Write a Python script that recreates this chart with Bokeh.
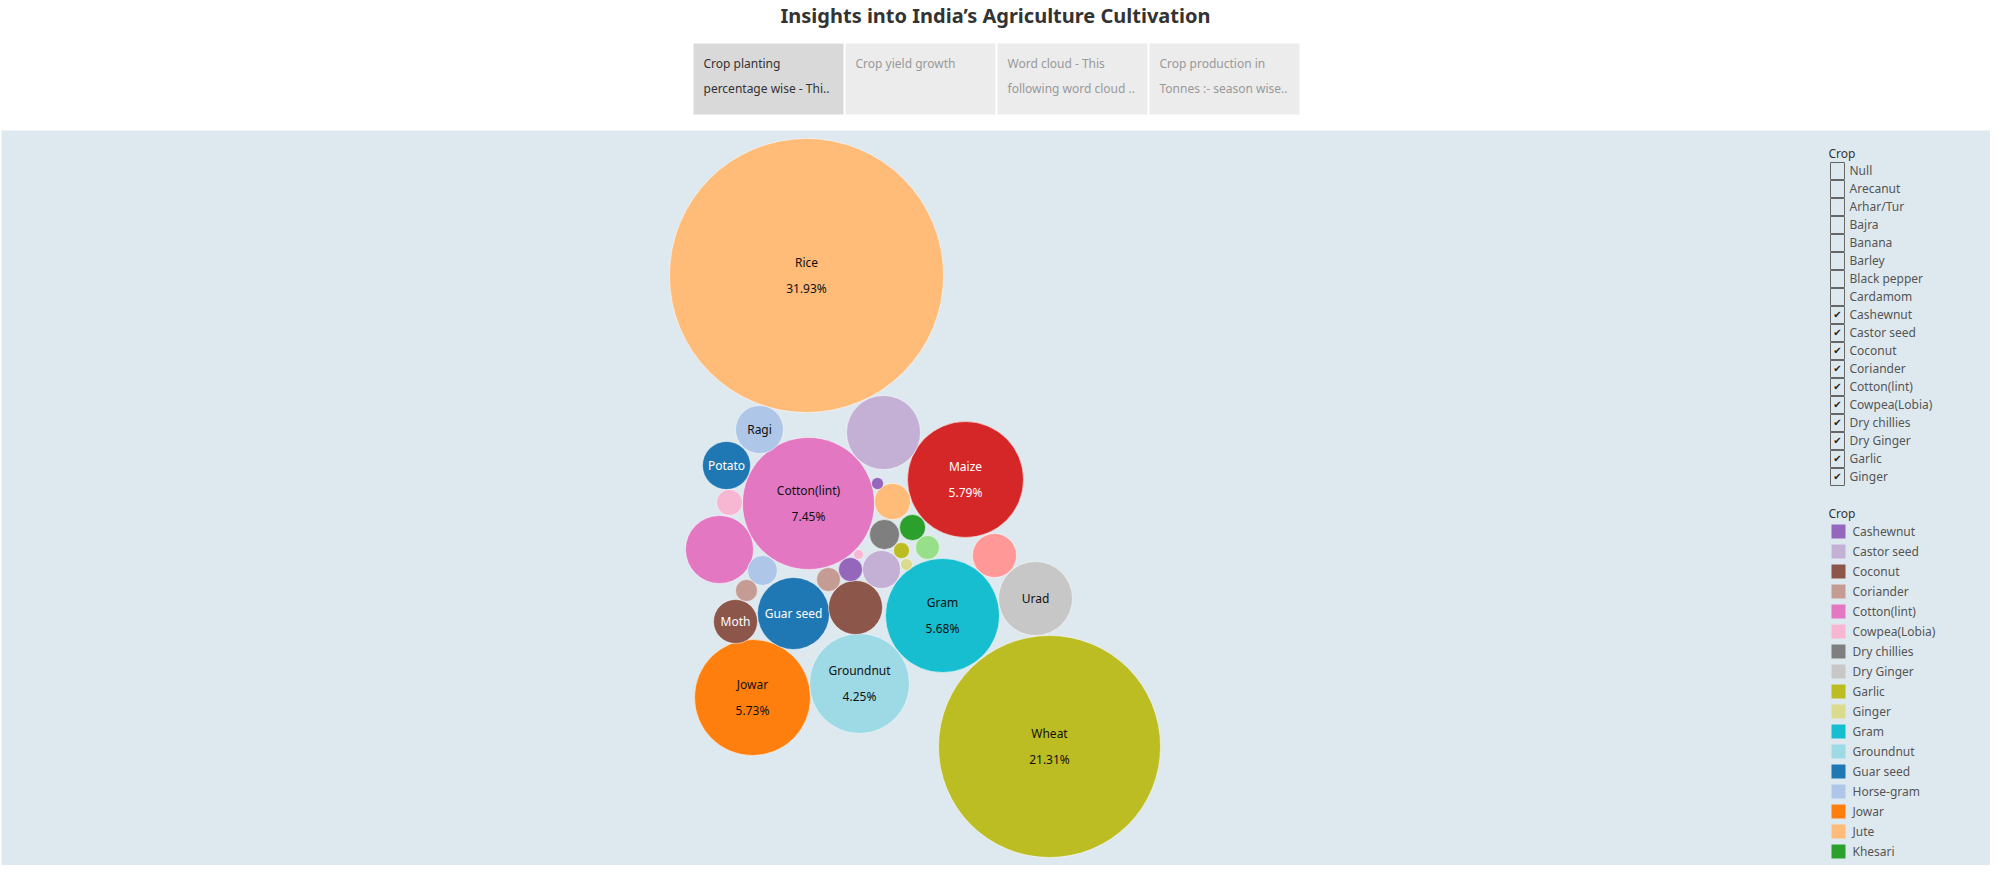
from bokeh.plotting import figure
from bokeh.models import Range1d, ColumnDataSource
from bokeh.core.properties import value
from bokeh.embed import file_html
from bokeh.resources import INLINE

FONT = "Noto Sans"
W, H = 1990, 865

# bubbles (page pixel layout)
crops = ['Rice', 'Wheat', 'Cotton(lint)', 'Maize', 'Jowar', 'Gram', 'Groundnut', 'Castor seed', 'Urad',
         'Guar seed', 'Cotton(lint) ', 'Coconut', 'Ragi', 'Potato', 'Moth', 'Lentil', 'Castor seed ',
         'Jute', 'Dry chillies', 'Horse-gram', 'Cowpea(Lobia)', 'Khesari', 'Linseed', 'Cashewnut',
         'Coriander', 'Coriander ', 'Garlic', 'Ginger', 'Cashewnut ', 'Cowpea(Lobia) ']
labels = ['Rice\n31.93%', 'Wheat\n21.31%', 'Cotton(lint)\n7.45%', 'Maize\n5.79%', 'Jowar\n5.73%',
          'Gram\n5.68%', 'Groundnut\n4.25%', '', 'Urad', 'Guar seed', '', '', 'Ragi', 'Potato', 'Moth',
          '', '', '', '', '', '', '', '', '', '', '', '', '', '', '']
colors = ['#ffbb78', '#bcbd22', '#e377c2', '#d62728', '#ff7f0e', '#17becf', '#9edae5', '#c5b0d5', '#c7c7c7',
          '#1f77b4', '#e377c2', '#8c564b', '#aec7e8', '#1f77b4', '#8c564b', '#ff9896', '#c5b0d5',
          '#ffbb78', '#7f7f7f', '#aec7e8', '#f7b6d2', '#2ca02c', '#98df8a', '#9467bd',
          '#c49c94', '#c49c94', '#bcbd22', '#dbdb8d', '#9467bd', '#f7b6d2']
label_colors = ['#111111'] * 30
for i in (3, 9, 13, 14):
    label_colors[i] = 'white'
bx = [814, 1057, 816, 973, 760, 950, 867, 891, 1043, 801, 727, 863, 767, 734, 743, 1002, 889,
      900, 892, 770, 737, 920, 935, 858, 836, 754, 909, 914, 885, 866]
by = [283, 754, 511, 487, 705, 623, 691, 440, 606, 621, 557, 615, 437, 473, 629, 563, 577,
      509, 542, 578, 510, 535, 555, 577, 587, 598, 558, 572, 491, 562]
br = [137, 111, 66, 58, 58, 57, 50, 37, 37, 36, 34, 27, 24, 24, 22, 22, 19,
      18, 15, 15, 13, 13, 12, 12, 12, 11, 8, 6, 6, 5]

filter_items = ['Null', 'Arecanut', 'Arhar/Tur', 'Bajra', 'Banana', 'Barley', 'Black pepper', 'Cardamom',
                'Cashewnut', 'Castor seed', 'Coconut', 'Coriander', 'Cotton(lint)', 'Cowpea(Lobia)',
                'Dry chillies', 'Dry Ginger', 'Garlic', 'Ginger']
filter_checked = [False] * 8 + [True] * 10

legend_items = ['Cashewnut', 'Castor seed', 'Coconut', 'Coriander', 'Cotton(lint)', 'Cowpea(Lobia)',
                'Dry chillies', 'Dry Ginger', 'Garlic', 'Ginger', 'Gram', 'Groundnut', 'Guar seed',
                'Horse-gram', 'Jowar', 'Jute', 'Khesari']
legend_colors = ['#9467bd', '#c5b0d5', '#8c564b', '#c49c94', '#e377c2', '#f7b6d2', '#7f7f7f', '#c7c7c7',
                 '#bcbd22', '#dbdb8d', '#17becf', '#9edae5', '#1f77b4', '#aec7e8', '#ff7f0e', '#ffbb78',
                 '#2ca02c']

tabs = ['Crop planting\npercentage wise - Thi..', 'Crop yield growth',
        'Word cloud - This\nfollowing word cloud ..', 'Crop production in\nTonnes :- season wise..']

p = figure(width=W, height=H, x_range=Range1d(0, W), y_range=Range1d(H, 0),
           output_backend="svg", toolbar_location=None, min_border=0)
p.axis.visible = False
p.grid.visible = False
p.outline_line_color = None
p.background_fill_color = 'white'

# title and tabs
p.text([W / 2], [15], text=['Insights into India\u2019s Agriculture Cultivation'], text_align='center',
       text_baseline='middle', text_font=value(FONT), text_font_size='20px', text_font_style='bold',
       text_color='#333333')
tx = [693 + i * 152 for i in range(4)]
p.quad(left=tx, right=[x + 150 for x in tx], top=[43] * 4, bottom=[114] * 4,
       fill_color=['#d9d9d9', '#ececec', '#ececec', '#ececec'], line_color=None)
p.text([x + 10 for x in tx], [54] * 4, text=tabs, text_baseline='top', text_font=value(FONT),
       text_font_size='12px', text_color=['#333333', '#999999', '#999999', '#999999'],
       text_line_height=1.5)

# panel
p.quad(left=[1], right=[1992], top=[130], bottom=[866], fill_color='#dee9ef', line_color=None)

src = ColumnDataSource(dict(x=[x - 8 for x in bx], y=[y - 8 for y in by], r=br, c=colors,
                            lab=labels, lc=label_colors))
p.circle('x', 'y', radius='r', fill_color='c', line_color='white', line_width=0.5, source=src)
p.text('x', 'y', text='lab', text_color='lc', text_align='center', text_baseline='middle',
       text_font=value(FONT), text_font_size='12px', text_line_height=1.5, source=src)

# filter legend
p.text([1828], [153], text=['Crop'], text_baseline='middle', text_font=value(FONT),
       text_font_size='12px', text_color='#333333')
fy = [170 + 18 * i for i in range(len(filter_items))]
p.quad(left=[1830] * len(fy), right=[1844] * len(fy), top=[y - 8 for y in fy], bottom=[y + 9 for y in fy],
       fill_color='#dee9ef', line_color='#666666', line_width=1)
p.text([1837] * len(fy), fy, text=['\u2714' if c else '' for c in filter_checked], text_align='center',
       text_baseline='middle', text_font=value("DejaVu Sans"), text_font_size='10px', text_color='#222222')
p.text([1849] * len(fy), fy, text=filter_items, text_baseline='middle', text_font=value(FONT),
       text_font_size='12px', text_color='#555555')

# colour legend
p.text([1828], [513], text=['Crop'], text_baseline='middle', text_font=value(FONT),
       text_font_size='12px', text_color='#333333')
ly = [531 + 20 * i for i in range(len(legend_items))]
p.quad(left=[1831] * len(ly), right=[1845] * len(ly), top=[y - 7 for y in ly], bottom=[y + 7 for y in ly],
       fill_color=legend_colors, line_color=None)
p.text([1852] * len(ly), ly, text=legend_items, text_baseline='middle', text_font=value(FONT),
       text_font_size='12px', text_color='#555555')

open("out.html", "w").write(file_html(p, INLINE))
